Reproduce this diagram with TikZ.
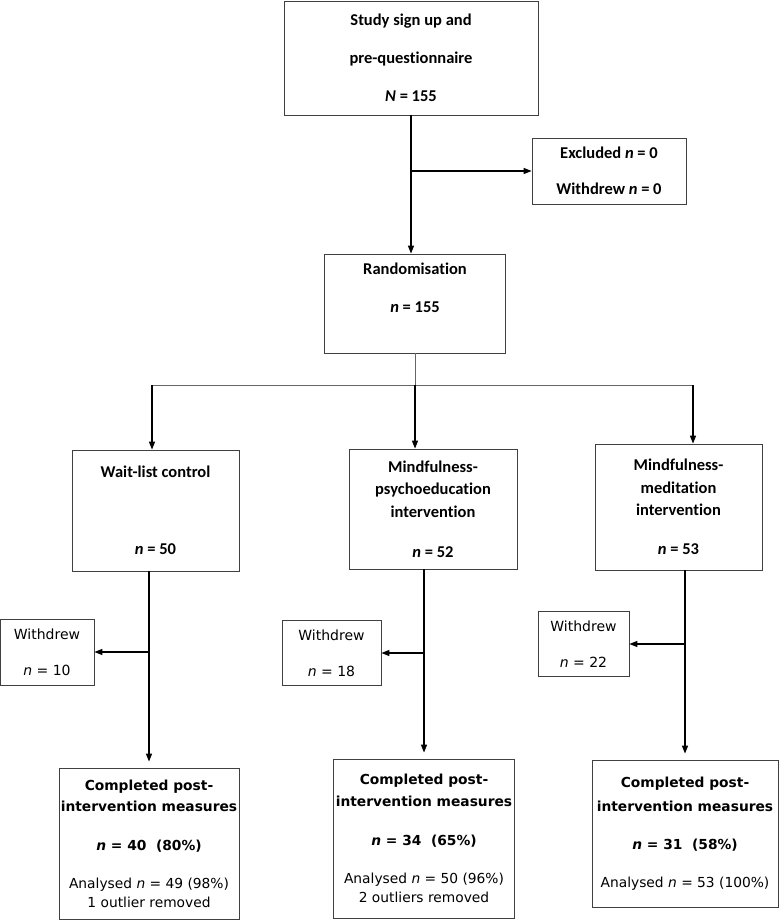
\documentclass[tikz,border=0pt]{standalone}
\usepackage{fontspec}
\setmainfont{Carlito}[Ligatures=NoCommon]
\newfontfamily\tahoma{DejaVu Sans}
\usetikzlibrary{arrows.meta}

\begin{document}
\begin{tikzpicture}[x=1pt, y=-1pt,
  box/.style={draw=black!75, line width=0.8pt, inner sep=0pt, align=center},
  headbox/.style={box, font=\fontsize{16.5}{38}\selectfont\bfseries},
  armbox/.style={box, font=\fontsize{16.5}{22.5}\selectfont\bfseries},
  wdbox/.style={box, font=\tahoma\fontsize{14}{36}\selectfont},
  endbox/.style={box, font=\tahoma\fontsize{13.8}{19}\selectfont},
  arr/.style={line width=1.3pt, -{Triangle[length=8pt,width=6pt]}},
  bar/.style={line width=0.7pt, black!60}]

  \useasboundingbox (0,0) rectangle (780,920);

  % Draw the boxes at the top
  \node[headbox, minimum width=254pt, minimum height=114pt] (signup) at (411,58)
    {Study sign up and\\pre-questionnaire\\\textit{N} = 155};
  \node[headbox, font=\fontsize{16.5}{36}\selectfont\bfseries,
    minimum width=154pt, minimum height=66pt] (excl) at (609,171)
    {Excluded \textit{n} = 0\\Withdrew \textit{n} = 0};
  \node[headbox, minimum width=181pt, minimum height=99pt] (rand) at (415,303.5)
    {Randomisation\\\textit{n} = 155\\[-7pt]\mbox{}};

  % The three groups
  \node[armbox, minimum width=167pt, minimum height=121pt] (wait) at (155.5,510.5)
    {Wait-list control\\[54.5pt]\textit{n} = 50};
  \node[armbox, minimum width=168pt, minimum height=120pt] (psy) at (433,509)
    {Mindfulness-\\psychoeducation\\intervention\\[17.5pt]\textit{n} = 52};
  \node[armbox, minimum width=167pt, minimum height=126pt] (med) at (678.5,507)
    {Mindfulness-\\meditation\\intervention\\[16.5pt]\textit{n} = 53};

  % Withdrawals
  \node[wdbox, minimum width=94pt, minimum height=66pt] (wd1) at (47,652)
    {Withdrew\\\textit{n} = 10};
  \node[wdbox, minimum width=99pt, minimum height=65pt] (wd2) at (331.5,653)
    {Withdrew\\\textit{n} = 18};
  \node[wdbox, minimum width=91pt, minimum height=65pt] (wd3) at (583.5,644)
    {Withdrew\\\textit{n} = 22};

  % Completed post-intervention
  \node[endbox, minimum width=180pt, minimum height=151pt] (done1) at (149,843.5)
    {\textbf{Completed post-}\\[2pt]\textbf{intervention measures}\\[20pt]
     \textbf{\textit{n} = 40\ \ (80\%)}\\[19pt]Analysed \textit{n} = 49 (98\%)\\1 outlier removed};
  \node[endbox, minimum width=181pt, minimum height=159pt] (done2) at (424,838.5)
    {\textbf{Completed post-}\\[3pt]\textbf{intervention measures}\\[20pt]
     \textbf{\textit{n} = 34\ \ (65\%)}\\[19pt]Analysed \textit{n} = 50 (96\%)\\2 outliers removed};
  \node[endbox, minimum width=186pt, minimum height=147pt] (done3) at (685,833.5)
    {\textbf{Completed post-}\\[5pt]\textbf{intervention measures}\\[19pt]
     \textbf{\textit{n} = 31\ \ (58\%)}\\[19pt]Analysed \textit{n} = 53 (100\%)};

  % Connectors
  \draw[arr] (signup.south) -- (signup.south |- rand.north);
  \draw[arr] (signup.south |- excl.west) -- (excl.west);

  \draw[bar] (rand.south) -- ++(0,32) coordinate (split);
  \coordinate (bl) at (152,385);
  \coordinate (br) at (693,385);
  \draw[bar] (bl) -- (br);
  \draw[arr] (bl) -- (bl |- wait.north);
  \draw[arr] (split) -- (split |- psy.north);
  \draw[arr] (br) -- (br |- med.north);

  \draw[arr, shorten >=6pt] (done1.north |- wait.south) -- (done1.north);
  \draw[arr, shorten >=6pt] (done2.north |- psy.south) -- (done2.north);
  \draw[arr, shorten >=6pt] (done3.north |- med.south) -- (done3.north);
  \draw[arr] (done1.north |- wd1.east) -- (wd1.east);
  \draw[arr] (done2.north |- wd2.east) -- (wd2.east);
  \draw[arr] (done3.north |- wd3.east) -- (wd3.east);
\end{tikzpicture}
\end{document}
